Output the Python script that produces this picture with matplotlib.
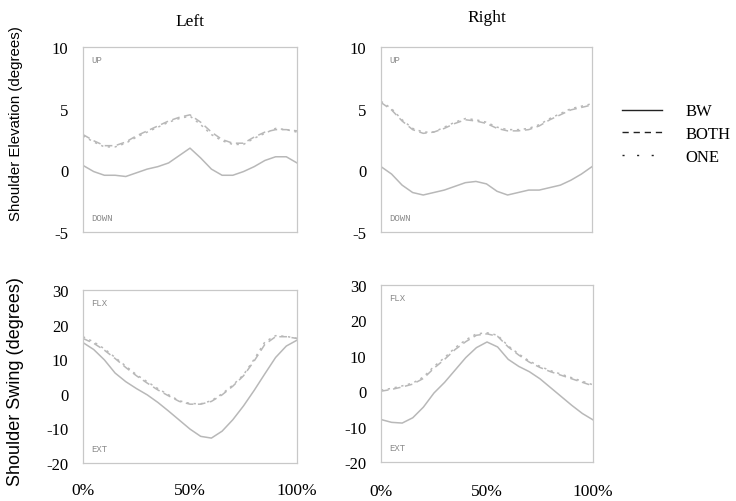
import matplotlib
matplotlib.use("Agg")
import matplotlib.pyplot as plt
from matplotlib.lines import Line2D

plt.rcParams['font.family'] = ['Liberation Serif', 'DejaVu Serif']
plt.rcParams['axes.unicode_minus'] = False

pct = [0, 5, 10, 15, 20, 25, 30, 35, 40, 45, 50, 55, 60, 65, 70, 75, 80, 85, 90, 95, 100]

series_names = ["BW", "BOTH", "ONE"]

# Shoulder elevation, left
elev_left_bw = [0.4, -0.1, -0.4, -0.4, -0.5, -0.2, 0.1, 0.3, 0.6, 1.2, 1.8, 1.0, 0.1, -0.4, -0.4, -0.1, 0.3, 0.8, 1.1, 1.1, 0.6]
elev_left_both = [2.9, 2.4, 2.0, 2.0, 2.3, 2.8, 3.2, 3.6, 4.0, 4.3, 4.5, 3.9, 3.1, 2.5, 2.2, 2.2, 2.7, 3.1, 3.3, 3.3, 3.2]
elev_left_one = [2.8, 2.3, 1.9, 1.9, 2.2, 2.7, 3.1, 3.5, 3.9, 4.2, 4.4, 3.7, 2.9, 2.4, 2.1, 2.1, 2.6, 3.0, 3.4, 3.3, 3.1]

# Shoulder elevation, right
elev_right_bw = [0.3, -0.3, -1.2, -1.8, -2.0, -1.8, -1.6, -1.3, -1.0, -0.9, -1.1, -1.7, -2.0, -1.8, -1.6, -1.6, -1.4, -1.2, -0.8, -0.3, 0.3]
elev_right_both = [5.5, 4.9, 4.0, 3.3, 3.0, 3.1, 3.4, 3.8, 4.1, 4.0, 3.8, 3.4, 3.2, 3.2, 3.3, 3.6, 4.1, 4.5, 4.9, 5.1, 5.3]
elev_right_one = [5.6, 5.0, 4.1, 3.4, 3.1, 3.1, 3.5, 3.9, 4.2, 4.1, 3.9, 3.5, 3.3, 3.3, 3.4, 3.7, 4.2, 4.6, 5.0, 5.2, 5.4]

# Shoulder swing, left
swing_left_bw = [14.8, 12.8, 9.8, 6.0, 3.5, 1.5, -0.3, -2.5, -5.0, -7.6, -10.2, -12.3, -12.8, -10.8, -7.5, -3.5, 1.0, 5.8, 10.5, 13.8, 15.5]
swing_left_both = [16.0, 14.6, 12.6, 10.2, 7.6, 5.2, 3.1, 1.1, -0.6, -2.2, -3.0, -3.0, -2.2, -0.3, 2.2, 5.2, 9.5, 14.3, 16.5, 16.5, 16.0]
swing_left_one = [16.5, 15.0, 13.0, 10.5, 8.0, 5.5, 3.5, 1.5, -0.3, -2.0, -2.8, -2.9, -2.0, 0.0, 2.5, 5.5, 10.0, 15.0, 16.8, 16.6, 16.0]

# Shoulder swing, right
swing_right_bw = [-8.0, -8.8, -9.0, -7.5, -4.5, -0.5, 2.5, 6.0, 9.5, 12.3, 13.9, 12.5, 9.0, 7.0, 5.5, 3.5, 1.0, -1.5, -4.0, -6.3, -8.1]
swing_right_both = [0.0, 0.5, 1.2, 2.0, 3.6, 6.5, 9.0, 11.8, 14.0, 15.8, 16.2, 15.5, 12.5, 10.2, 8.2, 6.7, 5.5, 4.5, 3.5, 2.5, 1.5]
swing_right_one = [0.3, 0.8, 1.5, 2.3, 4.0, 7.0, 9.5, 12.3, 14.5, 16.2, 16.5, 15.8, 12.8, 10.5, 8.5, 7.0, 5.8, 4.8, 3.8, 2.8, 1.8]

col_titles = ["Left", "Right"]
row_labels = ["Shoulder Elevation (degrees)", "Shoulder Swing (degrees)"]
elev_ticks = [-5, 0, 5, 10]
swing_ticks = [-20, -10, 0, 10, 20, 30]
x_ticks = [0, 50, 100]
x_ticklabels = ["0%", "50%", "100%"]
elev_tags = ["UP", "DOWN"]
swing_tags = ["FLX", "EXT"]

W, H = 736, 502
fig = plt.figure(figsize=(W / 100, H / 100), dpi=100)

def rect(l, r, t, b):
    return [l / W, (H - b) / H, (r - l) / W, (b - t) / H]

ax_tl = fig.add_axes(rect(83, 297, 48, 233))
ax_tr = fig.add_axes(rect(381, 592, 48, 233))
ax_bl = fig.add_axes(rect(83, 297, 291, 464))
ax_br = fig.add_axes(rect(381, 593, 286, 463))

line_col = "#b8b8b8"
styles = ["-", (0, (4.5, 3.5)), (0, (1.5, 9))]
plot_styles = ["-", (0, (5, 3)), (0, (1.5, 3))]

panels = [
    (ax_tl, [elev_left_bw, elev_left_both, elev_left_one], (-5, 10), elev_ticks, elev_tags),
    (ax_tr, [elev_right_bw, elev_right_both, elev_right_one], (-5, 10), elev_ticks, elev_tags),
    (ax_bl, [swing_left_bw, swing_left_both, swing_left_one], (-20, 30), swing_ticks, swing_tags),
    (ax_br, [swing_right_bw, swing_right_both, swing_right_one], (-20, 30), swing_ticks, swing_tags),
]

for i, (ax, data, ylim, yt, tags) in enumerate(panels):
    for vals, ls in zip(data, plot_styles):
        ax.plot(pct, vals, color=line_col, lw=1.1, linestyle=ls)
    ax.set_xlim(0, 100)
    ax.set_ylim(*ylim)
    ax.set_yticks(yt)
    ax.set_xticks(x_ticks)
    for s in ax.spines.values():
        s.set_color("#c8c8c8")
        s.set_linewidth(0.9)
    ax.tick_params(axis="y", length=0, pad=10.5, labelsize=12)
    if i >= 2:
        ax.set_xticklabels(x_ticklabels)
        ax.tick_params(axis="x", length=0, pad=14 if i == 2 else 15, labelsize=12.5)
    else:
        ax.tick_params(axis="x", length=0, labelbottom=False)
    ax.text(0.04, 0.955, tags[0], transform=ax.transAxes, family="Liberation Mono",
            fontsize=6.5, color="#8a8a8a", va="top", ha="left")
    ax.text(0.04, 0.055, tags[1], transform=ax.transAxes, family="Liberation Mono",
            fontsize=6.5, color="#8a8a8a", va="bottom", ha="left")

ax_tl.set_title(col_titles[0], fontsize=12.5, pad=16)
ax_tr.set_title(col_titles[1], fontsize=12.5, pad=19)

fig.text(16 / W, 1 - 124 / H, row_labels[0], rotation=90, ha="center", va="center",
         fontsize=10.8, family="Liberation Sans")
fig.text(16 / W, 1 - 382 / H, row_labels[1], rotation=90, ha="center", va="center",
         fontsize=13, family="Liberation Sans")

handles = [Line2D([0], [0], color="#222222", lw=1.0, linestyle=ls) for ls in styles]
fig.legend(handles, series_names, loc="center left", bbox_to_anchor=(622 / W, 1 - 135 / H),
           frameon=False, fontsize=12, handlelength=2.4, handletextpad=1.4, labelspacing=0.4,
           borderpad=0, borderaxespad=0)

fig.savefig("out.png", dpi=100)
